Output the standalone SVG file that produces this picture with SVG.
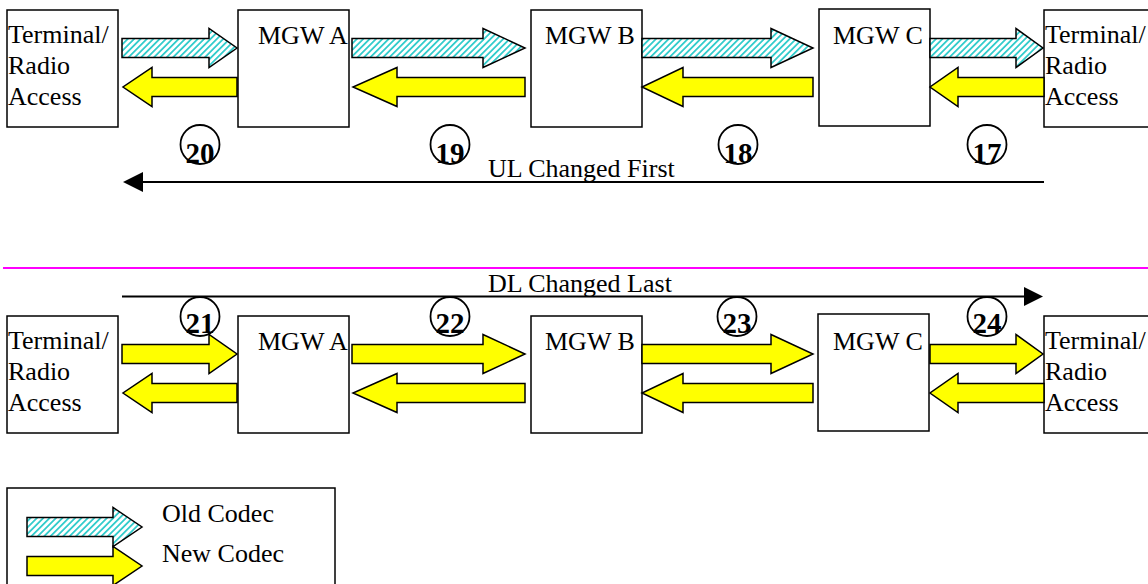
<svg xmlns="http://www.w3.org/2000/svg" width="1148" height="584" viewBox="0 0 1148 584">
<style>
.box{fill:#fff;stroke:#000;stroke-width:1.5}
.t{font-family:"Liberation Serif","Times New Roman",serif;font-size:26px;fill:#000}
.n{font-family:"Liberation Serif","Times New Roman",serif;font-size:29px;font-weight:bold;fill:#000;text-anchor:middle}
.old{fill:url(#hatch);stroke:#000;stroke-width:1.5;stroke-linejoin:miter}
.new{fill:#ffff00;stroke:#000;stroke-width:1.5;stroke-linejoin:miter}
.circ{fill:none;stroke:#000;stroke-width:1.8}
.line{stroke:#000;stroke-width:2;fill:none}
</style>
<defs>
<pattern id="hatch" patternUnits="userSpaceOnUse" width="4.5" height="4.5" patternTransform="rotate(45)">
<rect x="0" y="0" width="4.5" height="4.5" fill="#fff"/>
<rect x="0" y="0" width="1.8" height="4.5" fill="#33cccc"/>
</pattern>
</defs>
<rect width="1148" height="584" fill="#fff"/>

<g id="top-row">
<g id="t-term-left"><rect class="box" x="7" y="10" width="111" height="117"/><text class="t" x="8" y="43">Terminal/</text><text class="t" x="8" y="74">Radio</text><text class="t" x="8" y="105">Access</text></g>
<g id="t-mgw-a"><rect class="box" x="238" y="10" width="111" height="117"/><text class="t" x="258" y="44">MGW A</text></g>
<g id="t-mgw-b"><rect class="box" x="531" y="10" width="111" height="117"/><text class="t" x="545" y="44">MGW B</text></g>
<g id="t-mgw-c"><rect class="box" x="819" y="9" width="111" height="117"/><text class="t" x="833" y="44">MGW C</text></g>
<g id="t-term-right"><rect class="box" x="1044" y="10" width="110" height="117"/><text class="t" x="1045" y="43">Terminal/</text><text class="t" x="1045" y="74">Radio</text><text class="t" x="1045" y="105">Access</text></g>
</g>

<g id="bottom-row">
<g id="b-term-left"><rect class="box" x="7" y="316" width="111" height="117"/><text class="t" x="8" y="349">Terminal/</text><text class="t" x="8" y="380">Radio</text><text class="t" x="8" y="411">Access</text></g>
<g id="b-mgw-a"><rect class="box" x="238" y="316" width="111" height="117"/><text class="t" x="258" y="350">MGW A</text></g>
<g id="b-mgw-b"><rect class="box" x="531" y="316" width="111" height="117"/><text class="t" x="545" y="350">MGW B</text></g>
<g id="b-mgw-c"><rect class="box" x="818" y="314" width="111" height="117"/><text class="t" x="833" y="350">MGW C</text></g>
<g id="b-term-right"><rect class="box" x="1044" y="316" width="110" height="117"/><text class="t" x="1045" y="349">Terminal/</text><text class="t" x="1045" y="380">Radio</text><text class="t" x="1045" y="411">Access</text></g>
</g>

<g id="connectors">
<polygon class="old" points="122,38.5 209,38.5 209,28.5 237,48 209,67.5 209,57.5 122,57.5"/>
<polygon class="old" points="352,38.5 483,38.5 483,28.5 525,48 483,67.5 483,57.5 352,57.5"/>
<polygon class="old" points="642,38.5 771,38.5 771,28.5 813,48 771,67.5 771,57.5 642,57.5"/>
<polygon class="old" points="930,38.5 1016,38.5 1016,28.5 1043,48 1016,67.5 1016,57.5 930,57.5"/>
<polygon class="new" points="237,77.5 152,77.5 152,67.5 123,87 152,106.5 152,96.5 237,96.5"/>
<polygon class="new" points="525,77.5 397,77.5 397,67.5 353,87 397,106.5 397,96.5 525,96.5"/>
<polygon class="new" points="813,77.5 683,77.5 683,67.5 642,87 683,106.5 683,96.5 813,96.5"/>
<polygon class="new" points="1044,77.5 958,77.5 958,67.5 930,87 958,106.5 958,96.5 1044,96.5"/>
<polygon class="new" points="122,344.5 209,344.5 209,334.5 237,354 209,373.5 209,363.5 122,363.5"/>
<polygon class="new" points="352,344.5 483,344.5 483,334.5 525,354 483,373.5 483,363.5 352,363.5"/>
<polygon class="new" points="642,344.5 771,344.5 771,334.5 813,354 771,373.5 771,363.5 642,363.5"/>
<polygon class="new" points="930,344.5 1016,344.5 1016,334.5 1043,354 1016,373.5 1016,363.5 930,363.5"/>
<polygon class="new" points="237,383.5 152,383.5 152,373.5 123,393 152,412.5 152,402.5 237,402.5"/>
<polygon class="new" points="525,383.5 397,383.5 397,373.5 353,393 397,412.5 397,402.5 525,402.5"/>
<polygon class="new" points="813,383.5 683,383.5 683,373.5 642,393 683,412.5 683,402.5 813,402.5"/>
<polygon class="new" points="1044,383.5 958,383.5 958,373.5 930,393 958,412.5 958,402.5 1044,402.5"/>
<line class="line" x1="1044" y1="182" x2="140" y2="182"/>
<polygon points="123,182 143,172 143,192" fill="#000"/>
<line class="line" x1="122" y1="296.5" x2="1026" y2="296.5"/>
<polygon points="1043,296.5 1024,287 1024,306" fill="#000"/>
<line x1="3" y1="268" x2="1148" y2="268" stroke="#ff00ff" stroke-width="2"/>
</g>

<g id="labels">
<text class="t" x="488" y="177">UL Changed First</text>
<text class="t" x="488" y="292">DL Changed Last</text>
</g>

<g id="steps">
<g id="s20"><circle class="circ" cx="200" cy="144.5" r="19.5"/><text class="n" x="200" y="163">20</text></g>
<g id="s19"><circle class="circ" cx="450" cy="144.5" r="19.5"/><text class="n" x="450" y="163">19</text></g>
<g id="s18"><circle class="circ" cx="738" cy="144.5" r="19.5"/><text class="n" x="738" y="163">18</text></g>
<g id="s17"><circle class="circ" cx="987" cy="144.5" r="19.5"/><text class="n" x="987" y="163">17</text></g>
<g id="s21"><circle class="circ" cx="200" cy="316.5" r="19.5"/><text class="n" x="200" y="333">21</text></g>
<g id="s22"><circle class="circ" cx="450" cy="316.5" r="19.5"/><text class="n" x="450" y="333">22</text></g>
<g id="s23"><circle class="circ" cx="737" cy="316.5" r="19.5"/><text class="n" x="737" y="333">23</text></g>
<g id="s24"><circle class="circ" cx="987" cy="316.5" r="19.5"/><text class="n" x="987" y="333">24</text></g>
</g>

<g id="legend">
<rect class="box" x="7" y="488" width="328" height="110"/>
<polygon class="old" points="27,517.5 113,517.5 113,507.5 142,527 113,546.5 113,536.5 27,536.5"/>
<polygon class="new" points="27,556.5 113,556.5 113,546.5 142,566 113,585.5 113,575.5 27,575.5"/>
<text class="t" x="162" y="522">Old Codec</text>
<text class="t" x="162" y="562">New Codec</text>
</g>
</svg>
